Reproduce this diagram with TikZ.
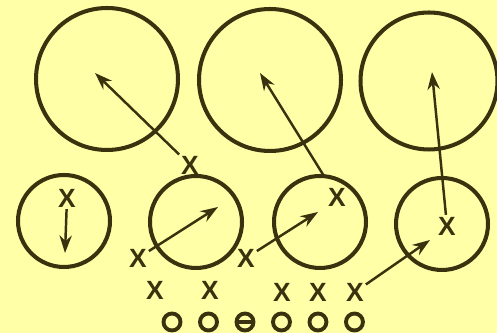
\documentclass[tikz,border=0pt]{standalone}
\usepackage{fontspec}
\setmainfont{Liberation Sans}
\usepackage{xcolor}
\usetikzlibrary{shapes,arrows.meta,positioning}

\definecolor{paper}{RGB}{255,255,168}
\definecolor{ink}{RGB}{58,50,14}

\begin{document}
\begin{tikzpicture}[x=0.02cm, y=-0.02cm, node distance=0.73cm,
  zone/.style={circle, draw=ink, line width=2.3pt, minimum size=2.84cm, inner sep=0pt},
  smallzone/.style={circle, draw=ink, line width=2.3pt, minimum size=1.84cm, inner sep=0pt},
  offense/.style={circle, draw=ink, line width=2.2pt, minimum size=0.34cm, inner sep=0pt},
  snapper/.style={offense, path picture={\draw[ink, line width=1.8pt] (path picture bounding box.west) -- (path picture bounding box.east);}},
  defense/.style={text=ink, font=\fontsize{15}{15}\bfseries, inner sep=1pt},
  arrow/.style={draw=ink, line width=1.4pt, -{Stealth[length=10pt,width=7pt]}}]

  \useasboundingbox[fill=paper] (0,0) rectangle (497,333);

  % deep zones
  \node (zoneA) [zone] at (107,79) {};
  \node (zoneB) [zone] at (270,80) {};
  \node (zoneC) [zone, minimum size=2.74cm] at (429,81) {};

  % short zones
  \node (flatL) [smallzone] at (64,221) {};
  \node (hookL) [smallzone] at (196,222) {};
  \node (hookR) [smallzone] at (320,222) {};
  \node (flatR) [smallzone] at (442,224) {};

  % defenders
  \node (xA) [defense] at (67,198) {X};
  \node (xB) [defense] at (190,165) {X};
  \node (xC) [defense] at (337,197) {X};
  \node (xD) [defense] at (447,226) {X};
  \node (xE) [defense] at (138,258) {X};
  \node (xF) [defense] at (246,258) {X};
  \node (lineA) [defense] at (155,290) {X};
  \node (lineB) [defense] at (210,290) {X};
  \node (lineC) [defense] at (282,292) {X};
  \node (lineD) [defense] at (318,292) {X};
  \node (lineE) [defense] at (355,292) {X};

  % offense line
  \node (o1) [offense] at (172,322) {};
  \node (o2) [offense, right of=o1] {};
  \node (o3) [snapper, right of=o2] {};
  \node (o4) [offense, right of=o3] {};
  \node (o5) [offense, right of=o4] {};
  \node (o6) [offense, right of=o5] {};

  % drop points
  \coordinate (tipA) at (65,253);
  \coordinate (tipB) at (95,73);
  \coordinate (tipC) at (260,73);
  \coordinate (tipD) at (432,72);
  \coordinate (tipE) at (218,207);
  \coordinate (tipF) at (318,212);
  \coordinate (tipG) at (430,240);

  \draw [arrow] (xA) -- (tipA);
  \draw [arrow] (xB) -- (tipB);
  \draw [arrow, shorten <=7pt] (xC) -- (tipC);
  \draw [arrow] (xD) -- (tipD);
  \draw [arrow] (xE) -- (tipE);
  \draw [arrow] (xF) -- (tipF);
  \draw [arrow] (lineE) -- (tipG);
\end{tikzpicture}
\end{document}
